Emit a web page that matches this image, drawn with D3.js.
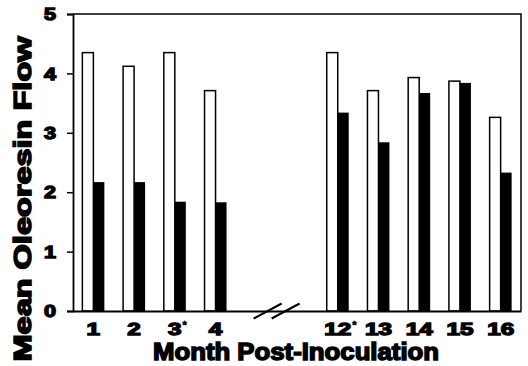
<!DOCTYPE html>
<html>
<head>
<meta charset="utf-8">
<script src="https://cdn.jsdelivr.net/npm/d3@7"></script>
<style>
  body { margin: 0; background: #fff; }
  svg { display: block; }
  text { font-family: "Liberation Sans", Arial, sans-serif; font-weight: bold; fill: #000; }
</style>
</head>
<body>
<svg id="chart" width="528" height="366"></svg>
<script>
// values
const months = ['1', '2', '3', '4', '12', '13', '14', '15', '16']
const starred = ['3', '12']
const control = [4.35, 4.12, 4.35, 3.71, 4.35, 3.71, 3.93, 3.87, 3.26]
const inoculated = [2.17, 2.17, 1.84, 1.83, 3.34, 2.84, 3.67, 3.84, 2.33]
const yTicks = [0, 1, 2, 3, 4, 5]
// two empty slots stand for the broken part of the axis
const slots = ['1', '2', '3', '4', 'gap1', 'gap2', '12', '13', '14', '15', '16']

const width = 528
const height = 366
const margin = {top: 14, right: 7, bottom: 55, left: 73}

const svg = d3.select('#chart')

const x = d3.scaleBand()
    .domain(slots)
    .range([margin.left, width - margin.right])
    .paddingInner(0.46)
    .paddingOuter(0.23)

const sub = d3.scaleBand()
    .domain(['control', 'inoculated'])
    .range([0, x.bandwidth()])

const y = d3.scaleLinear()
    .domain([0, 5])
    .range([height - margin.bottom, margin.top])

const rows = months.map((m, i) => ({month: m, control: control[i], inoculated: inoculated[i]}))

// bars
const groups = svg.append('g')
    .selectAll('g.group')
    .data(rows)
    .enter()
    .append('g')
    .attr('class', 'group')
    .attr('transform', d => `translate(${x(d.month)},0)`)

groups.append('rect')
    .attr('x', sub('control'))
    .attr('y', d => y(d.control))
    .attr('width', sub.bandwidth())
    .attr('height', d => y(0) - y(d.control))
    .attr('fill', '#fff')
    .attr('stroke', '#000')
    .attr('stroke-width', 1.5)

groups.append('rect')
    .attr('x', sub('inoculated'))
    .attr('y', d => y(d.inoculated))
    .attr('width', sub.bandwidth())
    .attr('height', d => y(0) - y(d.inoculated))
    .attr('fill', '#000')

// frame: top and right edges
svg.append('path')
    .attr('d', `M${margin.left},${y(5)}H${width - margin.right}V${y(0)}`)
    .attr('fill', 'none')
    .attr('stroke', '#000')
    .attr('stroke-width', 1.5)

// y axis
const yAxis = svg.append('g')
    .attr('transform', `translate(${margin.left},0)`)
    .call(d3.axisLeft(y).tickValues(yTicks).tickSize(6).tickPadding(11).tickFormat(d3.format('d')))
yAxis.select('.domain').attr('stroke-width', 1.8)
yAxis.selectAll('.tick line').attr('stroke-width', 1.5)
yAxis.selectAll('.tick text')
    .attr('font-size', 16)
    .attr('textLength', 12)
    .attr('lengthAdjust', 'spacingAndGlyphs')
    .attr('stroke', '#000')
    .attr('stroke-width', 1.3)
    .attr('dy', '0.36em')

// x axis
const xAxis = svg.append('g')
    .attr('transform', `translate(0,${y(0)})`)
    .call(d3.axisBottom(x).tickValues(months).tickSize(0).tickPadding(12).tickSizeOuter(0))
xAxis.select('.domain').attr('stroke-width', 2)
xAxis.selectAll('.tick text')
    .attr('font-size', 17)
    .attr('textLength', d => d.length * 13.5)
    .attr('lengthAdjust', 'spacingAndGlyphs')
    .attr('stroke', '#000')
    .attr('stroke-width', 1.3)
    .attr('dy', '0.72em')
xAxis.selectAll('.tick')
    .filter(d => starred.includes(d))
    .append('text')
    .attr('x', d => d.length * 6.75 + 1)
    .attr('y', 18)
    .attr('font-size', 11)
    .attr('text-anchor', 'start')
    .attr('stroke', '#000')
    .attr('stroke-width', 0.6)
    .text('*')

// axis break marks
const breakX = (x('gap1') + x('gap2') + x.bandwidth()) / 2
;[-9, 9].forEach(off => {
  svg.append('line')
      .attr('x1', breakX + off - 14)
      .attr('y1', y(0) + 7.5)
      .attr('x2', breakX + off + 14)
      .attr('y2', y(0) - 7.5)
      .attr('stroke', '#000')
      .attr('stroke-width', 2)
})

// axis titles
svg.append('text')
    .attr('x', 296)
    .attr('y', 360)
    .attr('text-anchor', 'middle')
    .attr('font-size', 24)
    .attr('textLength', 286)
    .attr('lengthAdjust', 'spacingAndGlyphs')
    .attr('stroke', '#000')
    .attr('stroke-width', 1.5)
    .text('Month Post-Inoculation')

svg.append('text')
    .attr('transform', 'translate(31,199) rotate(-90)')
    .attr('text-anchor', 'middle')
    .attr('font-size', 24)
    .attr('textLength', 325)
    .attr('lengthAdjust', 'spacingAndGlyphs')
    .attr('stroke', '#000')
    .attr('stroke-width', 1.5)
    .text('Mean Oleoresin Flow')
</script>
</body>
</html>
